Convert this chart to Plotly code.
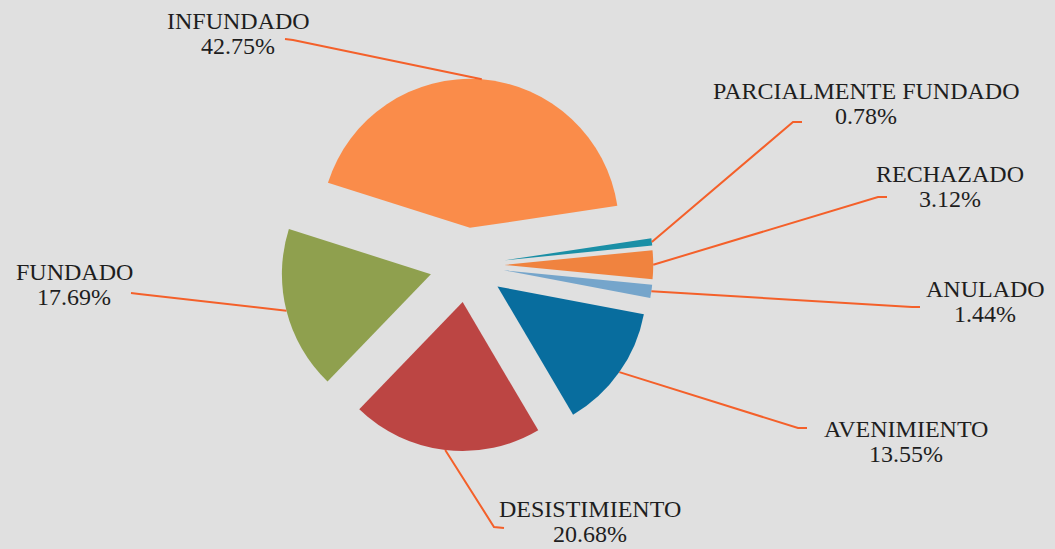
import math
import plotly.graph_objects as go

# datos
etiquetas = ['PARCIALMENTE FUNDADO', 'RECHAZADO', 'ANULADO', 'AVENIMIENTO',
             'DESISTIMIENTO', 'FUNDADO', 'INFUNDADO']
porcentajes = [0.78, 3.12, 1.44, 13.55, 20.68, 17.69, 42.75]
colores = ['#1a8fa6', '#f0833f', '#75a5cb', '#086d9e',
           '#bc4543', '#8fa04e', '#fa8c4a']

# lienzo
W, H = 1055, 549
cx, cy, r = 467, 265, 149
pull = 0.25
rotacion = 81.5
linea = '#f4602a'

# posicion de textos (pixeles): centro x, y nombre, y porcentaje, codo, final
posiciones = {
    'PARCIALMENTE FUNDADO': (866, 91, 116, (793, 122), (802, 122)),
    'RECHAZADO': (950, 174, 199, (878, 197), (887, 197)),
    'ANULADO': (985, 289, 314, (912, 307), (920, 307)),
    'AVENIMIENTO': (906, 429, 454, (798, 428), (807, 428)),
    'DESISTIMIENTO': (590, 509, 534, (494, 527), (504, 528)),
    'FUNDADO': (74, 272, 297, (139, 294), (131, 293)),
    'INFUNDADO': (238, 21, 46, (293, 40), (285, 39)),
}

half = r * (1 + pull)
fig = go.Figure(go.Pie(
    labels=etiquetas, values=porcentajes, sort=False,
    direction='clockwise', rotation=rotacion, pull=[pull] * len(etiquetas),
    marker=dict(colors=colores, line=dict(width=0)),
    textinfo='none', showlegend=False,
    domain=dict(x=[(cx - half) / W, (cx + half) / W],
                y=[1 - (cy + half) / H, 1 - (cy - half) / H]),
))


def px2paper(x, y):
    return x / W, 1 - y / H


fuente = dict(family='Liberation Serif', size=24, color='#1e1e1e')
total = sum(porcentajes)
acumulado = 0
shapes = []
annotations = []
for nombre, valor in zip(etiquetas, porcentajes):
    # punto medio del borde exterior de cada sector (ya desplazado)
    medio = rotacion + (acumulado + valor / 2) / total * 360
    acumulado += valor
    a = math.radians(medio)
    sx = cx + (1 + pull) * r * math.sin(a)
    sy = cy - (1 + pull) * r * math.cos(a)
    xc, yn, yp, codo, fin = posiciones[nombre]
    p0 = px2paper(sx, sy)
    p1 = px2paper(*codo)
    p2 = px2paper(*fin)
    shapes.append(dict(type='path', xref='paper', yref='paper',
                       path=f'M {p0[0]},{p0[1]} L {p1[0]},{p1[1]} L {p2[0]},{p2[1]}',
                       line=dict(color=linea, width=2)))
    for texto, yy in [(nombre, yn), (f'{valor:.2f}%', yp)]:
        x, y = px2paper(xc, yy)
        annotations.append(dict(x=x, y=y, xref='paper', yref='paper', text=texto,
                                showarrow=False, xanchor='center', yanchor='middle',
                                font=fuente))

fig.update_layout(
    width=W, height=H,
    margin=dict(l=0, r=0, t=0, b=0),
    paper_bgcolor='#e0e0e0', plot_bgcolor='#e0e0e0',
    shapes=shapes, annotations=annotations,
)

fig.write_html('out.html', config={'displayModeBar': False},
               post_script="document.body.style.margin='0';")
